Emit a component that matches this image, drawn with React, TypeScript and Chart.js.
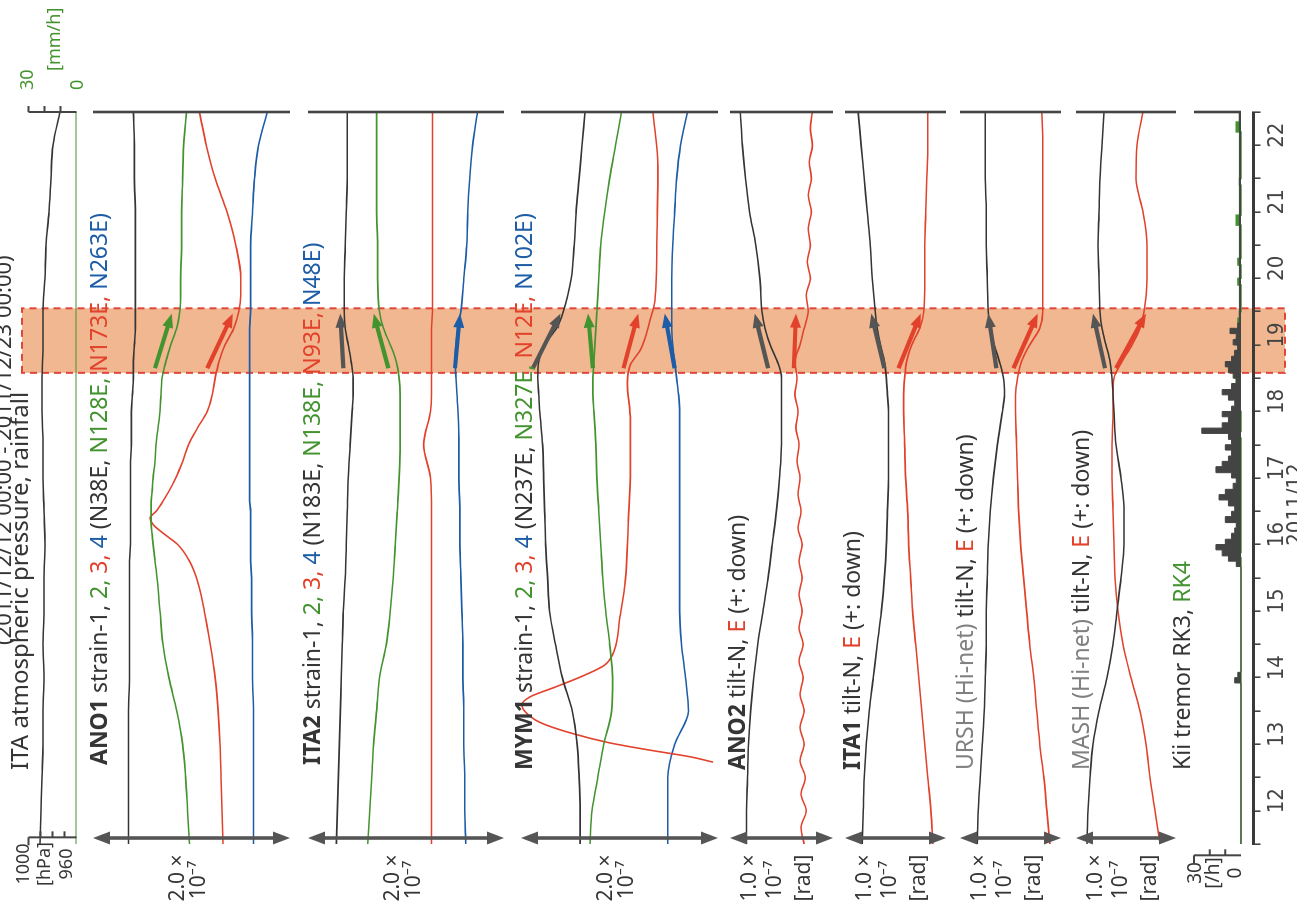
import React, { useEffect, useRef } from "react";
import { Chart, registerables } from "chart.js";

Chart.register(...registerables);

// ---------------- layout constants (natural, un-rotated orientation) ----------------
const W = 911;
const H = 1297;
const PAD_LEFT = 67;
const PAD_RIGHT = 112;

// ---------------- time axis ----------------
const dayLabels = ["12", "13", "14", "15", "16", "17", "18", "19", "20", "21", "22"];
const timeMin = 12;
const timeMax = 23;
const periodText = "(2011/12/12 00:00 - 2011/12/23 00:00)";
const monthText = "2011/12";
const sseBand = [19.08, 20.05];

// ---------------- ITA pressure / rainfall ----------------
const pressT = [12, 12.5, 13, 13.5, 14, 14.5, 15, 15.5, 16, 16.5, 17, 17.5, 18, 18.5, 19, 19.5, 20, 20.5, 21, 21.5, 22, 22.5, 23];
const pressHPa = [990.4, 989.6, 988.8, 987.9, 987.9, 987.1, 987.9, 987.1, 987.1, 986.3, 987.1, 987.9, 987.9, 988.8, 988.8, 987.9, 987.9, 986.3, 985.4, 982.9, 981.3, 979.6, 973.8];
const rainT = [12, 15, 18, 21, 23];
const rainMM = [0, 0, 0, 0, 0];

// ---------------- ANO1 strain (x1e-9) ----------------
const ano1T = [12, 12.5, 13, 13.5, 14, 14.5, 15, 15.5, 16, 16.25, 16.5, 16.65, 16.8, 16.9, 17, 17.15, 17.3, 17.5, 17.75, 18, 18.25, 18.5, 18.75, 19, 19.25, 19.5, 19.75, 20, 20.25, 20.5, 21, 21.5, 22, 22.5, 23];
const ano1S1 = [36, 36, 36, 36, 36, 37, 37, 37, 37, 37, 38, 38, 38, 38, 38, 38, 38, 38, 38, 39, 39, 39, 40, 41, 41, 42, 43, 43, 43, 43, 43, 43, 42, 42, 41];
const ano1S2 = [98, 96, 94, 91, 85, 77, 71, 68, 65, 63, 61, 60, 59, 59, 59, 59, 60, 61, 63, 64, 66, 68, 69, 70, 74, 79, 85, 88, 89, 89, 90, 90, 91, 92, 95];
const ano1S3 = [132, 131, 130, 129, 127, 124, 119, 113, 105, 98, 86, 73, 61, 58, 64, 71, 77, 84, 91, 97, 106, 116, 121, 124, 128, 134, 143, 148, 150, 150, 145, 136, 124, 115, 108];
const ano1S4 = [163, 163, 163, 163, 163, 162, 162, 161, 161, 160, 160, 160, 160, 160, 160, 159, 159, 159, 159, 159, 159, 159, 159, 159, 159, 159, 159, 160, 160, 160, 160, 162, 164, 168, 177];

// common grid used by several panels
const gridT = [12, 12.5, 13, 13.5, 14, 14.5, 15, 15.5, 16, 16.5, 17, 17.5, 18, 18.5, 18.75, 19, 19.25, 19.5, 19.75, 20, 20.5, 21, 21.5, 22, 22.5, 23];

// ---------------- ITA2 strain ----------------
const ita2S1 = [29, 30, 31, 32, 33, 34, 35, 36, 38, 39, 40, 41, 43, 45, 46, 46, 44, 41, 38, 37, 37, 38, 39, 40, 40, 40];
const ita2S2 = [61, 63, 65, 67, 70, 73, 80, 84, 87, 89, 91, 93, 94, 94, 94, 93, 90, 84, 77, 73, 71, 71, 70, 70, 70, 70];
const ita2S3 = [126, 126, 126, 126, 126, 126, 126, 126, 126, 126, 126, 125, 118, 125, 126, 126, 126, 126, 126, 127, 127, 127, 127, 127, 127, 127];
const ita2S4 = [161, 160, 160, 159, 159, 158, 158, 157, 156, 155, 155, 154, 154, 153, 152, 151, 150, 151, 153, 156, 159, 162, 163, 165, 168, 173];

// ---------------- MYM1 strain ----------------
const mym1S1 = [60, 60, 59, 57, 52, 42, 35, 29, 27, 25, 24, 23, 22, 19, 18, 17, 18, 24, 36, 43, 51, 54, 56, 59, 62, 65];
const mym1S2 = [70, 72, 78, 84, 92, 93, 90, 86, 83, 81, 79, 77, 76, 74, 73, 73, 74, 75, 76, 77, 79, 81, 85, 90, 96, 102];
const mym1T3 = [13.23, 13.31, 13.41, 13.52, 13.67, 13.83, 14.01, 14.09, 14.21, 14.36, 14.54, 14.69, 14.92, 15.37, 15.97, 16.87, 17.62, 18.37, 18.93, 19.2, 19.42, 19.87, 20.17, 21.18, 22.17, 23];
const mym1S3 = [195, 172, 131, 90, 50, 19, 3, 1, 9, 35, 65, 85, 95, 100, 106, 109, 111, 111, 108, 111, 121, 131, 136, 138, 139, 134];
const mym1S4 = [149, 149, 149, 156, 170, 167, 163, 161, 161, 161, 161, 161, 161, 161, 160, 158, 156, 154, 153, 153, 153, 154, 156, 158, 162, 169];

// ---------------- tilt (x1e-9 rad) ----------------
const ano2N = [16, 16, 17, 18, 20, 23, 27, 32, 37, 41, 45, 48, 50, 50, 50, 50, 46, 39, 34, 31, 29, 25, 19, 15, 12, 10];
const ano2ET = [12, 12.25, 12.5, 12.75, 13, 13.25, 13.5, 13.75, 14, 14.25, 14.5, 14.75, 15, 15.25, 15.5, 15.75, 16, 16.25, 16.5, 16.75, 17, 17.25, 17.5, 17.75, 18, 18.25, 18.5, 18.75, 19, 19.25, 19.5, 19.75, 20, 20.25, 20.5, 20.75, 21, 21.25, 21.5, 21.75, 22, 22.25, 22.5, 22.75, 23];
const ano2E = [72, 69, 74, 69, 73, 68, 72, 68, 72, 68, 71, 67, 71, 67, 70, 67, 70, 67, 70, 66, 69, 66, 68, 65, 67, 64, 66, 63, 65, 63, 68, 72, 76, 74, 78, 75, 78, 76, 79, 76, 79, 77, 80, 78, 80];
const ita1N = [17, 18, 19, 21, 24, 28, 32, 36, 39, 41, 42, 43, 43, 43, 42, 41, 39, 35, 32, 30, 27, 25, 22, 19, 16, 13];
const ita1E = [87, 85, 82, 79, 76, 73, 70, 67, 65, 63, 62, 60, 59, 58, 58, 59, 61, 66, 74, 78, 79, 79, 80, 81, 82, 82];
const urshN = [17, 18, 20, 22, 24, 25, 26, 26, 27, 28, 30, 33, 37, 42, 44, 43, 39, 34, 30, 28, 27, 26, 26, 25, 25, 25];
const urshE = [89, 86, 83, 79, 76, 73, 69, 66, 63, 60, 58, 57, 56, 55, 55, 57, 61, 69, 79, 82, 82, 82, 82, 82, 82, 81];
const mashN = [11, 12, 14, 17, 23, 31, 37, 41, 45, 48, 48, 45, 40, 38, 37, 36, 34, 30, 26, 24, 23, 22, 23, 24, 26, 28];
const mashE = [84, 79, 74, 70, 64, 55, 47, 42, 39, 38, 37, 36, 36, 37, 37, 38, 46, 56, 64, 68, 71, 71, 67, 60, 61, 67];

// ---------------- Kii tremor counts per bin ----------------
const rk3T = [12, 14.42, 14.5, 14.58, 16.17, 16.25, 16.33, 16.42, 16.5, 16.58, 16.67, 16.75, 16.83, 16.92, 17.0, 17.08, 17.17, 17.25, 17.33, 17.42, 17.5, 17.58, 17.67, 17.75, 17.83, 17.92, 18.0, 18.08, 18.17, 18.25, 18.33, 18.42, 18.5, 18.58, 18.67, 18.75, 18.83, 18.92, 19.0, 19.08, 19.17, 19.25, 19.33, 19.42, 19.5, 19.58, 19.67, 19.75, 19.83, 23];
const rk3N = [0, 4, 2, 0, 3, 8, 12, 16, 10, 6, 4, 3, 10, 6, 4, 8, 14, 10, 5, 3, 6, 16, 12, 8, 6, 10, 6, 8, 25, 12, 8, 12, 6, 4, 8, 12, 6, 3, 5, 8, 10, 6, 4, 2, 5, 3, 7, 2, 1, 0];
const rk4T = [12, 16.3, 16.38, 18.1, 18.2, 18.5, 18.6, 18.9, 19.0, 19.1, 19.2, 19.3, 19.4, 19.5, 19.6, 19.7, 19.9, 20.0, 20.4, 20.5, 20.7, 20.8, 21.3, 21.45, 21.9, 22.0, 22.7, 22.85, 23];
const rk4N = [0, 1, 0, 2, 0, 2, 1, 3, 2, 4, 3, 4, 2, 3, 1, 2, 1, 0, 2, 0, 2, 0, 3, 0, 1, 0, 3, 1, 0];

// ---------------- styling ----------------
const C = {
  dark: "#353535",
  green: "#43932f",
  red: "#e2412b",
  blue: "#1d5ca6",
  gray: "#808080",
  arrow: "#555555",
  band: "#f1b790",
  bandEdge: "#e0463a",
};
const FONT = "'Noto Sans', 'DejaVu Sans', sans-serif";
const NARROW = "'Liberation Sans Narrow', 'DejaVu Sans Condensed', 'Noto Sans', sans-serif";
const BAND_Y = [22, 1285];
const LABEL_SIZE = 23;
const SCALE_SIZE = 21;

type Seg = [string, string, boolean?];
type TextItem = { x: number; y: number; segs: Seg[]; size?: number; align?: CanvasTextAlign; font?: string };
type Series = { t: number[]; v: number[]; color: string; axis?: string; width?: number; stepped?: boolean; fill?: string };
type Arrow = [number, number, number, number, string];
type Bracket = { t: number; axis: string; from: number; to: number; ticks: number[]; dir: number; endOut?: boolean };
type Panel = {
  area: [number, number];
  yMin: number;
  yMax: number;
  reverse: boolean;
  y2?: [number, number];
  series: Series[];
  arrows?: Arrow[];
  texts: TextItem[];
  scaleArrowT?: number;
  endLine?: boolean;
  brackets?: Bracket[];
  band?: boolean;
  timeAxis?: boolean;
};

const strainLabel = (name: string, dirs: string[]): Seg[] => [
  [name, C.dark, true],
  [" strain-1, ", C.dark],
  ["2, ", C.green],
  ["3, ", C.red],
  ["4", C.blue],
  [" (" + dirs[0] + ", ", C.dark],
  [dirs[1] + ", ", C.green],
  [dirs[2] + ", ", C.red],
  [dirs[3] + ")", C.blue],
];
const tiltLabel = (name: string, hinet: boolean): Seg[] => [
  [name, hinet ? C.gray : C.dark, !hinet],
  [" tilt-N, ", C.dark],
  ["E", C.red],
  [" (+: down)", C.dark],
];
const strainScale = (L: number): TextItem[] => [
  { x: 33, y: L + 91, segs: [["2.0 ×", C.dark]], align: "center", size: SCALE_SIZE },
  { x: 31, y: L + 112, segs: [["10⁻⁷", C.dark]], align: "center", size: SCALE_SIZE },
];
const tiltScale = (L: number): TextItem[] => [
  { x: 33, y: L + 26, segs: [["1.0 ×", C.dark]], align: "center", size: SCALE_SIZE },
  { x: 31, y: L + 51, segs: [["10⁻⁷", C.dark]], align: "center", size: SCALE_SIZE },
  { x: 33, y: L + 80, segs: [["[rad]", C.dark]], align: "center", size: SCALE_SIZE },
];

const ARROW_T0 = 19.15;
const ARROW_T1 = 19.97;

const PANELS: Panel[] = [
  {
    area: [28.5, 76.5],
    yMin: 960,
    yMax: 1000,
    reverse: false,
    y2: [0, 30],
    band: true,
    series: [
      { t: pressT, v: pressHPa, color: C.dark },
      { t: rainT, v: rainMM, color: C.green, axis: "y2", width: 1.8 },
    ],
    brackets: [
      { t: 12.1, axis: "y", from: 1000, to: 960, ticks: [990, 980, 970], dir: 1, endOut: true },
      { t: 23, axis: "y2", from: 30, to: 0, ticks: [30, 20, 10], dir: 1 },
    ],
    texts: [
      { x: 266, y: 11, segs: [[periodText, C.dark]], size: 22 },
      { x: 141, y: 28, segs: [["ITA atmospheric pressure, rainfall", C.dark]], size: 24 },
      { x: 47, y: 29, segs: [["1000", C.dark]], align: "center", size: 18 },
      { x: 47, y: 50, segs: [["[hPa]", C.dark]], align: "center", size: 18 },
      { x: 47, y: 72, segs: [["960", C.dark]], align: "center", size: 18 },
      { x: 821, y: 33, segs: [["30", C.green]], size: 18 },
      { x: 840, y: 60, segs: [["[mm/h]", C.green]], size: 18 },
      { x: 821, y: 83, segs: [["0", C.green]], size: 18 },
    ],
  },
  {
    area: [93, 290],
    yMin: 0,
    yMax: 200,
    reverse: true,
    scaleArrowT: 12.09,
    endLine: true,
    series: [
      { t: ano1T, v: ano1S1, color: C.dark },
      { t: ano1T, v: ano1S2, color: C.green },
      { t: ano1T, v: ano1S3, color: C.red },
      { t: ano1T, v: ano1S4, color: C.blue },
    ],
    arrows: [
      [ARROW_T0, 63, ARROW_T1, 80, C.green],
      [ARROW_T0, 116, ARROW_T1, 142, C.red],
    ],
    texts: [{ x: 146, y: 107, segs: strainLabel("ANO1", ["N38E", "N128E", "N173E", "N263E"]), size: LABEL_SIZE }, ...strainScale(93)],
  },
  {
    area: [308, 504],
    yMin: 0,
    yMax: 200,
    reverse: true,
    scaleArrowT: 12.09,
    endLine: true,
    series: [
      { t: gridT, v: ita2S1, color: C.dark },
      { t: gridT, v: ita2S2, color: C.green },
      { t: gridT, v: ita2S3, color: C.red },
      { t: gridT, v: ita2S4, color: C.blue },
    ],
    arrows: [
      [ARROW_T0, 36, ARROW_T1, 33, C.arrow],
      [ARROW_T0, 82, ARROW_T1, 67, C.green],
      [ARROW_T0, 150, ARROW_T1, 155, C.blue],
    ],
    texts: [{ x: 146, y: 320, segs: strainLabel("ITA2", ["N183E", "N138E", "N93E", "N48E"]), size: LABEL_SIZE }, ...strainScale(308)],
  },
  {
    area: [521, 718],
    yMin: 0,
    yMax: 200,
    reverse: true,
    scaleArrowT: 12.09,
    endLine: true,
    series: [
      { t: gridT, v: mym1S1, color: C.dark },
      { t: gridT, v: mym1S2, color: C.green },
      { t: mym1T3, v: mym1S3, color: C.red },
      { t: gridT, v: mym1S4, color: C.blue },
    ],
    arrows: [
      [ARROW_T0, 12, ARROW_T1, 40, C.arrow],
      [ARROW_T0, 73, ARROW_T1, 68, C.green],
      [ARROW_T0, 104, ARROW_T1, 119, C.red],
      [ARROW_T0, 156, ARROW_T1, 146, C.blue],
    ],
    texts: [{ x: 141, y: 532, segs: strainLabel("MYM1", ["N237E", "N327E", "N12E", "N102E"]), size: LABEL_SIZE }, ...strainScale(521)],
  },
  {
    area: [730, 833],
    yMin: 0,
    yMax: 100,
    reverse: true,
    scaleArrowT: 12.09,
    endLine: true,
    series: [
      { t: gridT, v: ano2N, color: C.dark },
      { t: ano2ET, v: ano2E, color: C.red },
    ],
    arrows: [
      [ARROW_T0, 37, ARROW_T1, 24, C.arrow],
      [ARROW_T0, 62, ARROW_T1, 64, C.red],
    ],
    texts: [{ x: 141, y: 745, segs: tiltLabel("ANO2", false), size: LABEL_SIZE }, ...tiltScale(730)],
  },
  {
    area: [845, 946],
    yMin: 0,
    yMax: 100,
    reverse: true,
    scaleArrowT: 12.09,
    endLine: true,
    series: [
      { t: gridT, v: ita1N, color: C.dark },
      { t: gridT, v: ita1E, color: C.red },
    ],
    arrows: [
      [ARROW_T0, 39, ARROW_T1, 26, C.arrow],
      [ARROW_T0, 53, ARROW_T1, 75, C.red],
    ],
    texts: [{ x: 141, y: 860, segs: tiltLabel("ITA1", false), size: LABEL_SIZE }, ...tiltScale(845)],
  },
  {
    area: [960, 1061],
    yMin: 0,
    yMax: 100,
    reverse: true,
    scaleArrowT: 12.09,
    endLine: true,
    series: [
      { t: gridT, v: urshN, color: C.dark },
      { t: gridT, v: urshE, color: C.red },
    ],
    arrows: [
      [ARROW_T0, 36, ARROW_T1, 28, C.arrow],
      [ARROW_T0, 53, ARROW_T1, 77, C.red],
    ],
    texts: [{ x: 141, y: 973, segs: tiltLabel("URSH (Hi-net)", true), size: LABEL_SIZE }, ...tiltScale(960)],
  },
  {
    area: [1076, 1176],
    yMin: 0,
    yMax: 100,
    reverse: true,
    scaleArrowT: 12.09,
    endLine: true,
    series: [
      { t: gridT, v: mashN, color: C.dark },
      { t: gridT, v: mashE, color: C.red },
    ],
    arrows: [
      [ARROW_T0, 29, ARROW_T1, 17, C.arrow],
      [ARROW_T0, 40, ARROW_T1, 70, C.red],
    ],
    texts: [{ x: 141, y: 1089, segs: tiltLabel("MASH (Hi-net)", true), size: LABEL_SIZE }, ...tiltScale(1076)],
  },
  {
    area: [1194, 1253.5],
    yMin: -8,
    yMax: 30,
    reverse: false,
    timeAxis: true,
    series: [
      { t: rk3T, v: rk3N, color: "#444444", stepped: true, fill: "#444444", width: 1 },
      { t: rk4T, v: rk4N, color: C.green, stepped: true, fill: C.green, width: 1.4 },
    ],
    brackets: [{ t: 11.83, axis: "y", from: 30, to: 0, ticks: [20, 10], dir: 1, endOut: true }],
    texts: [
      { x: 141, y: 1190, segs: [["Kii tremor RK3, ", C.dark], ["RK4", C.green]], size: LABEL_SIZE },
      { x: 38, y: 1201, segs: [["30", C.dark]], align: "center", size: 19 },
      { x: 38, y: 1219, segs: [["[/h]", C.dark]], align: "center", size: 19 },
      { x: 38, y: 1241, segs: [["0", C.dark]], align: "center", size: 19 },
    ],
  },
];

// ---------------- drawing helpers ----------------
function head(ctx: CanvasRenderingContext2D, x: number, y: number, ang: number, len: number, hw: number) {
  const c = Math.cos(ang);
  const s = Math.sin(ang);
  ctx.beginPath();
  ctx.moveTo(x, y);
  ctx.lineTo(x - len * c + hw * s, y - len * s - hw * c);
  ctx.lineTo(x - len * c - hw * s, y - len * s + hw * c);
  ctx.closePath();
  ctx.fill();
}

function arrow(ctx: CanvasRenderingContext2D, x0: number, y0: number, x1: number, y1: number, color: string, lw: number, len: number, hw: number, both = false) {
  const ang = Math.atan2(y1 - y0, x1 - x0);
  const c = Math.cos(ang);
  const s = Math.sin(ang);
  ctx.save();
  ctx.strokeStyle = color;
  ctx.fillStyle = color;
  ctx.lineWidth = lw;
  ctx.setLineDash([]);
  ctx.beginPath();
  ctx.moveTo(both ? x0 + c * len * 0.8 : x0, both ? y0 + s * len * 0.8 : y0);
  ctx.lineTo(x1 - c * len * 0.8, y1 - s * len * 0.8);
  ctx.stroke();
  head(ctx, x1, y1, ang, len, hw);
  if (both) head(ctx, x0, y0, ang + Math.PI, len, hw);
  ctx.restore();
}

function drawText(ctx: CanvasRenderingContext2D, item: TextItem) {
  const size = item.size ?? 19;
  const fam = item.font ?? FONT;
  ctx.save();
  ctx.textBaseline = "alphabetic";
  let total = 0;
  for (const [t, , b] of item.segs) {
    ctx.font = `${b ? "bold " : ""}${size}px ${fam}`;
    total += ctx.measureText(t).width;
  }
  let x = item.x;
  if (item.align === "center") x -= total / 2;
  if (item.align === "right") x -= total;
  ctx.textAlign = "left";
  for (const [t, col, b] of item.segs) {
    ctx.font = `${b ? "bold " : ""}${size}px ${fam}`;
    ctx.fillStyle = col;
    ctx.fillText(t, x, item.y);
    x += ctx.measureText(t).width;
  }
  ctx.restore();
}

function makePlugin(p: Panel) {
  return {
    id: "decor",
    beforeDatasetsDraw(chart: any) {
      if (!p.band) return;
      const ctx = chart.ctx as CanvasRenderingContext2D;
      const xs = chart.scales.x;
      const x0 = xs.getPixelForValue(sseBand[0]);
      const x1 = xs.getPixelForValue(sseBand[1]);
      ctx.save();
      ctx.fillStyle = C.band;
      ctx.fillRect(x0, BAND_Y[0], x1 - x0, BAND_Y[1] - BAND_Y[0]);
      ctx.strokeStyle = C.bandEdge;
      ctx.lineWidth = 2;
      ctx.setLineDash([7, 5]);
      ctx.strokeRect(x0, BAND_Y[0], x1 - x0, BAND_Y[1] - BAND_Y[0]);
      ctx.restore();
    },
    afterDatasetsDraw(chart: any) {
      const ctx = chart.ctx as CanvasRenderingContext2D;
      const xs = chart.scales.x;
      const ys = chart.scales.y;
      if (p.endLine) {
        const x = xs.getPixelForValue(timeMax);
        ctx.save();
        ctx.strokeStyle = "#444";
        ctx.lineWidth = 2.6;
        ctx.beginPath();
        ctx.moveTo(x, ys.getPixelForValue(p.yMin));
        ctx.lineTo(x, ys.getPixelForValue(p.yMax));
        ctx.stroke();
        ctx.restore();
      }
      if (p.timeAxis) {
        const x = xs.getPixelForValue(timeMax);
        ctx.save();
        ctx.strokeStyle = "#444";
        ctx.lineWidth = 2.6;
        ctx.beginPath();
        ctx.moveTo(x, ys.getPixelForValue(0));
        ctx.lineTo(x, ys.getPixelForValue(30));
        ctx.stroke();
        ctx.restore();
        drawText(ctx, { x: xs.getPixelForValue(17.1), y: 1302, segs: [[monthText, "#444"]], size: 22, font: NARROW, align: "center" });
      }
      if (p.scaleArrowT !== undefined) {
        const x = xs.getPixelForValue(p.scaleArrowT);
        arrow(ctx, x, ys.getPixelForValue(p.yMin), x, ys.getPixelForValue(p.yMax), C.arrow, 3.6, 17, 6.5, true);
      }
      for (const b of p.brackets ?? []) {
        const sc = chart.scales[b.axis];
        const x = xs.getPixelForValue(b.t);
        ctx.save();
        ctx.strokeStyle = "#444";
        ctx.lineWidth = 2;
        ctx.beginPath();
        ctx.moveTo(x, sc.getPixelForValue(b.from));
        ctx.lineTo(x, sc.getPixelForValue(b.to));
        for (const tv of b.ticks) {
          const y = sc.getPixelForValue(tv);
          ctx.moveTo(x, y);
          ctx.lineTo(x + 6 * b.dir, y);
        }
        if (b.endOut) {
          const y = sc.getPixelForValue(b.from);
          ctx.moveTo(x, y);
          ctx.lineTo(x - 8 * b.dir, y);
        }
        ctx.stroke();
        ctx.restore();
      }
      for (const [t0, v0, t1, v1, col] of p.arrows ?? []) {
        arrow(ctx, xs.getPixelForValue(t0), ys.getPixelForValue(v0), xs.getPixelForValue(t1), ys.getPixelForValue(v1), col, 4.2, 14, 5.5);
      }
      for (const t of p.texts) drawText(ctx, t);
    },
  };
}

const halfDayTicks = dayLabels.flatMap((d) => [Number(d), Number(d) + 0.5]).concat([timeMax]);

function buildConfig(p: Panel): any {
  const datasets = p.series.map((s) => ({
    data: s.t.map((t, i) => ({ x: t, y: s.v[i] })),
    borderColor: s.color,
    backgroundColor: s.fill ?? "transparent",
    borderWidth: s.width ?? 1.6,
    pointRadius: 0,
    fill: s.fill ? "origin" : false,
    stepped: s.stepped ? true : false,
    cubicInterpolationMode: s.stepped ? "default" : "monotone",
    tension: s.stepped ? 0 : 0.4,
    yAxisID: s.axis ?? "y",
  }));
  const scales: any = {
    x: {
      type: "linear",
      min: timeMin,
      max: timeMax,
      display: !!p.timeAxis,
      position: "bottom",
      afterBuildTicks: (s: any) => {
        s.ticks = halfDayTicks.map((v) => ({ value: v }));
      },
      afterFit: (s: any) => {
        if (p.timeAxis) s.height = H - p.area[1];
      },
      ticks: {
        autoSkip: false,
        maxRotation: 0,
        minRotation: 0,
        padding: 4,
        labelOffset: 10,
        color: "#444",
        font: { family: NARROW, size: 22 },
        callback: (v: number) => {
          const d = String(v - 0.5);
          return dayLabels.includes(d) ? d : "";
        },
      },
      grid: { drawOnChartArea: false, drawTicks: true, tickLength: 7, color: "#444", lineWidth: 1.6 },
      border: { display: true, color: "#3a3a3a", width: 3 },
    },
    y: { type: "linear", min: p.yMin, max: p.yMax, reverse: p.reverse, display: false },
  };
  if (p.y2) scales.y2 = { type: "linear", min: p.y2[0], max: p.y2[1], display: false };
  return {
    type: "line",
    data: { datasets },
    options: {
      animation: false,
      responsive: false,
      devicePixelRatio: 1,
      events: [],
      layout: {
        padding: { left: PAD_LEFT, right: PAD_RIGHT, top: p.area[0], bottom: p.timeAxis ? 0 : H - p.area[1] },
      },
      plugins: { legend: { display: false }, tooltip: { enabled: false }, title: { display: false } },
      scales,
    },
    plugins: [makePlugin(p)],
  };
}

function PanelCanvas({ p }: { p: Panel }) {
  const ref = useRef<HTMLCanvasElement>(null);
  useEffect(() => {
    const chart = new Chart(ref.current as HTMLCanvasElement, buildConfig(p));
    return () => chart.destroy();
  }, [p]);
  return <canvas ref={ref} width={W} height={H} style={{ position: "absolute", left: 0, top: 0, width: W, height: H }} />;
}

export default function App() {
  useEffect(() => {
    document.body.style.margin = "0";
  }, []);
  return (
    <div style={{ position: "fixed", left: 0, top: 0, width: 1297, height: 911, overflow: "hidden", background: "#ffffff" }}>
      <div
        style={{
          position: "absolute",
          left: 0,
          top: 0,
          width: W,
          height: H,
          transformOrigin: "0 0",
          transform: "translateY(911px) rotate(-90deg)",
        }}
      >
        {PANELS.map((p, i) => (
          <PanelCanvas key={i} p={p} />
        ))}
      </div>
    </div>
  );
}
